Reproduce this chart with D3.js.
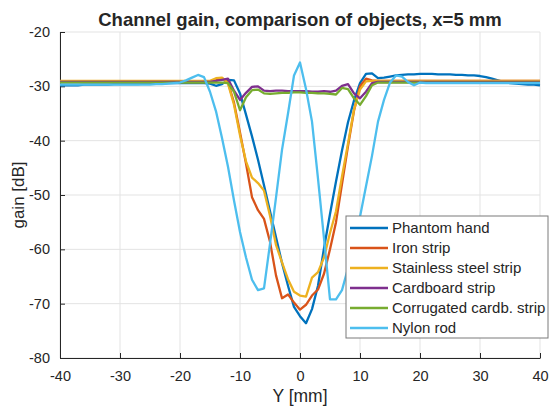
<!DOCTYPE html>
<html>
<head>
<meta charset="utf-8">
<script src="https://cdn.jsdelivr.net/npm/d3@7"></script>
<style>
  body { margin: 0; background: #fff; }
  text { font-family: "Liberation Sans", Arial, sans-serif; fill: #262626; }
</style>
</head>
<body>
<div id="chart"></div>
<script>
// sample positions, mm
var posY = [-40,-39,-38,-37,-36,-35,-34,-33,-32,-31,-30,-29,-28,-27,-26,-25,-24,-23,-22,-21,
  -20,-19,-18,-17,-16,-15,-14,-13,-12,-11,-10,-9,-8,-7,-6,-5,-4,-3,-2,-1,
  0,1,2,3,4,5,6,7,8,9,10,11,12,13,14,15,16,17,18,19,
  20,21,22,23,24,25,26,27,28,29,30,31,32,33,34,35,36,37,38,39,40];

var phantomHand = [-29.8,-29.8,-29.8,-29.8,-29.7,-29.7,-29.7,-29.7,-29.7,-29.6,-29.6,-29.6,-29.6,-29.6,-29.5,-29.5,-29.5,-29.5,-29.4,-29.4,
  -29.4,-29.4,-29.4,-29.4,-29.4,-29.5,-29.9,-29.6,-28.8,-28.9,-31.3,-35.2,-39.2,-43.5,-48.2,-53.0,-57.8,-62.5,-66.7,-70.6,
  -72.3,-73.6,-71.0,-66.7,-59.8,-53.5,-47.5,-41.8,-36.6,-32.6,-29.4,-27.7,-27.6,-28.5,-28.4,-28.2,-28.0,-27.9,-27.8,-27.8,
  -27.7,-27.7,-27.7,-27.8,-27.8,-27.8,-27.9,-27.9,-28.0,-28.0,-28.1,-28.3,-28.6,-28.9,-29.2,-29.4,-29.5,-29.6,-29.7,-29.7,-29.8];

var ironStrip = [-29.1,-29.1,-29.1,-29.1,-29.1,-29.1,-29.1,-29.1,-29.1,-29.1,-29.1,-29.1,-29.1,-29.1,-29.1,-29.1,-29.1,-29.1,-29.1,-29.1,
  -29.1,-29.1,-29.1,-29.1,-29.1,-29.1,-28.9,-28.5,-29.3,-33.0,-38.5,-44.2,-50.4,-52.8,-54.4,-58.6,-64.8,-69.0,-68.3,-69.8,
  -71.1,-70.2,-68.5,-67.4,-64.5,-60.0,-55.0,-48.0,-41.0,-34.5,-30.0,-28.6,-28.9,-29.0,-29.0,-29.0,-29.0,-29.0,-29.0,-29.0,
  -29.0,-29.0,-29.0,-29.0,-29.0,-29.0,-29.0,-29.0,-29.0,-29.0,-29.0,-29.0,-29.0,-29.0,-29.0,-29.0,-29.0,-29.0,-29.0,-29.0,-29.0];

var steelStrip = [-29.0,-29.0,-29.0,-29.0,-29.0,-29.0,-29.0,-29.0,-29.0,-29.0,-29.0,-29.0,-29.0,-29.0,-29.0,-29.0,-29.0,-29.0,-29.0,-29.0,
  -29.0,-29.0,-29.0,-29.0,-29.0,-29.0,-28.5,-28.4,-29.5,-33.4,-39.0,-43.8,-46.8,-47.8,-49.2,-53.8,-59.2,-62.4,-65.5,-67.8,
  -68.5,-68.7,-65.2,-64.2,-61.5,-57.0,-53.0,-46.6,-40.5,-34.3,-30.6,-29.1,-29.0,-29.0,-29.0,-29.0,-29.0,-29.0,-29.0,-29.0,
  -29.0,-29.0,-29.0,-29.0,-29.0,-29.0,-29.0,-29.0,-29.0,-29.0,-29.0,-29.0,-29.0,-29.0,-29.0,-29.0,-29.0,-29.0,-29.0,-29.0,-29.0];

var cardboardStrip = [-29.2,-29.2,-29.2,-29.2,-29.2,-29.2,-29.2,-29.2,-29.2,-29.2,-29.2,-29.2,-29.2,-29.2,-29.2,-29.2,-29.2,-29.2,-29.2,-29.2,
  -29.2,-29.2,-29.2,-29.2,-29.2,-29.2,-29.0,-28.8,-28.6,-30.8,-32.5,-31.2,-30.1,-30.0,-30.8,-30.9,-30.8,-30.8,-30.9,-30.9,
  -30.9,-30.9,-31.0,-31.0,-30.9,-31.0,-30.8,-29.9,-29.6,-31.3,-32.2,-31.0,-29.4,-29.2,-29.2,-29.2,-29.2,-29.2,-29.2,-29.2,
  -29.2,-29.2,-29.2,-29.2,-29.2,-29.2,-29.2,-29.2,-29.2,-29.2,-29.2,-29.2,-29.2,-29.2,-29.2,-29.2,-29.2,-29.2,-29.2,-29.2,-29.2];

var corrugatedStrip = [-29.3,-29.3,-29.3,-29.3,-29.3,-29.3,-29.3,-29.3,-29.3,-29.3,-29.3,-29.3,-29.3,-29.3,-29.3,-29.3,-29.3,-29.3,-29.3,-29.3,
  -29.3,-29.3,-29.3,-29.3,-29.3,-29.3,-29.3,-29.3,-29.4,-31.0,-34.4,-32.0,-30.7,-30.6,-31.3,-31.4,-31.3,-31.2,-31.2,-31.1,
  -31.1,-31.2,-31.2,-31.3,-31.3,-31.4,-31.5,-30.3,-30.5,-32.2,-33.4,-31.8,-29.8,-29.3,-29.3,-29.3,-29.3,-29.3,-29.3,-29.3,
  -29.3,-29.3,-29.3,-29.3,-29.3,-29.3,-29.3,-29.3,-29.3,-29.3,-29.3,-29.3,-29.3,-29.3,-29.3,-29.3,-29.3,-29.3,-29.3,-29.3,-29.3];

var nylonRod = [-29.7,-29.7,-29.7,-29.7,-29.7,-29.7,-29.7,-29.7,-29.7,-29.7,-29.7,-29.7,-29.7,-29.7,-29.7,-29.7,-29.6,-29.6,-29.5,-29.4,
  -29.3,-28.9,-28.4,-27.9,-28.3,-31.0,-34.6,-39.5,-44.8,-51.0,-56.8,-61.5,-65.6,-67.5,-67.2,-59.0,-50.5,-41.7,-35.0,-28.0,
  -25.6,-30.5,-36.5,-47.0,-58.0,-69.2,-69.2,-67.5,-63.5,-58.5,-54.0,-48.4,-42.8,-36.5,-32.5,-29.3,-28.0,-28.2,-29.2,-29.8,
  -29.3,-29.4,-29.4,-29.4,-29.4,-29.4,-29.4,-29.4,-29.4,-29.4,-29.4,-29.4,-29.4,-29.4,-29.4,-29.4,-29.4,-29.4,-29.4,-29.4,-29.4];

var seriesNames = ["Phantom hand", "Iron strip", "Stainless steel strip", "Cardboard strip", "Corrugated cardb. strip", "Nylon rod"];
var seriesValues = [phantomHand, ironStrip, steelStrip, cardboardStrip, corrugatedStrip, nylonRod];
var seriesColors = ["#0072BD", "#D95319", "#EDB120", "#7E2F8E", "#77AC30", "#4DBEEE"];

var xTicks = [-40,-30,-20,-10,0,10,20,30,40];
var yTicks = [-80,-70,-60,-50,-40,-30,-20];

var width = 551, height = 412;
var plotL = 60, plotR = 540, plotT = 32, plotB = 358;

var svg = d3.select("#chart").append("svg")
    .attr("width", width)
    .attr("height", height);

var x = d3.scaleLinear().domain([-40, 40]).range([plotL, plotR]);
var y = d3.scaleLinear().domain([-80, -20]).range([plotB, plotT]);

// grid
svg.append("g").selectAll("line")
    .data(xTicks).enter().append("line")
    .attr("x1", function(d){ return x(d); }).attr("x2", function(d){ return x(d); })
    .attr("y1", plotT).attr("y2", plotB)
    .attr("stroke", "#e3e3e3").attr("stroke-width", 1);
svg.append("g").selectAll("line")
    .data(yTicks).enter().append("line")
    .attr("x1", plotL).attr("x2", plotR)
    .attr("y1", function(d){ return y(d); }).attr("y2", function(d){ return y(d); })
    .attr("stroke", "#e3e3e3").attr("stroke-width", 1);

// axes, ticks pointing inward
var fmt = function(d){ return String(d); };
var xAxis = d3.axisBottom(x).tickValues(xTicks).tickFormat(fmt).tickSize(-5).tickSizeOuter(0).tickPadding(13);
var yAxis = d3.axisLeft(y).tickValues(yTicks).tickFormat(fmt).tickSize(-5).tickSizeOuter(0).tickPadding(10);

var gx = svg.append("g")
    .attr("transform", "translate(0," + plotB + ")")
    .call(xAxis);
var gy = svg.append("g")
    .attr("transform", "translate(" + plotL + ",0)")
    .call(yAxis);

[gx, gy].forEach(function(g){
  g.select(".domain").attr("stroke", "#262626");
  g.selectAll(".tick line").attr("stroke", "#262626");
  g.selectAll(".tick text")
    .style("font-family", "Liberation Sans, Arial, sans-serif")
    .style("font-size", "14.5px")
    .attr("fill", "#262626");
});

// curves
var line = d3.line()
    .x(function(d){ return x(d[0]); })
    .y(function(d){ return y(d[1]); });

seriesValues.forEach(function(vals, i){
  svg.append("path")
    .datum(posY.map(function(p, j){ return [p, vals[j]]; }))
    .attr("fill", "none")
    .attr("stroke", seriesColors[i])
    .attr("stroke-width", 2.3)
    .attr("stroke-linejoin", "round")
    .attr("d", line);
});

// title and labels
svg.append("text")
    .attr("x", (plotL + plotR) / 2).attr("y", 26)
    .attr("text-anchor", "middle")
    .style("font-size", "18.5px").style("font-weight", "bold")
    .text("Channel gain, comparison of objects, x=5 mm");

svg.append("text")
    .attr("x", (plotL + plotR) / 2).attr("y", 402)
    .attr("text-anchor", "middle")
    .style("font-size", "17.5px")
    .text("Y [mm]");

svg.append("text")
    .attr("transform", "translate(24," + ((plotT + plotB) / 2) + ") rotate(-90)")
    .attr("text-anchor", "middle")
    .style("font-size", "17px")
    .text("gain [dB]");

// legend
var legend = svg.append("g").attr("transform", "translate(346,216)");
legend.append("rect")
    .attr("width", 202).attr("height", 122)
    .attr("fill", "#fff")
    .attr("stroke", "#7a7a7a").attr("stroke-width", 1);

var item = legend.selectAll("g.item")
    .data(seriesNames).enter().append("g")
    .attr("class", "item")
    .attr("transform", function(d, i){ return "translate(0," + (12 + i * 20) + ")"; });

item.append("line")
    .attr("x1", 4).attr("x2", 42)
    .attr("stroke", function(d, i){ return seriesColors[i]; })
    .attr("stroke-width", 2.3);

item.append("text")
    .attr("x", 46).attr("dy", "0.35em")
    .style("font-size", "15px")
    .text(function(d){ return d; });
</script>
</body>
</html>
